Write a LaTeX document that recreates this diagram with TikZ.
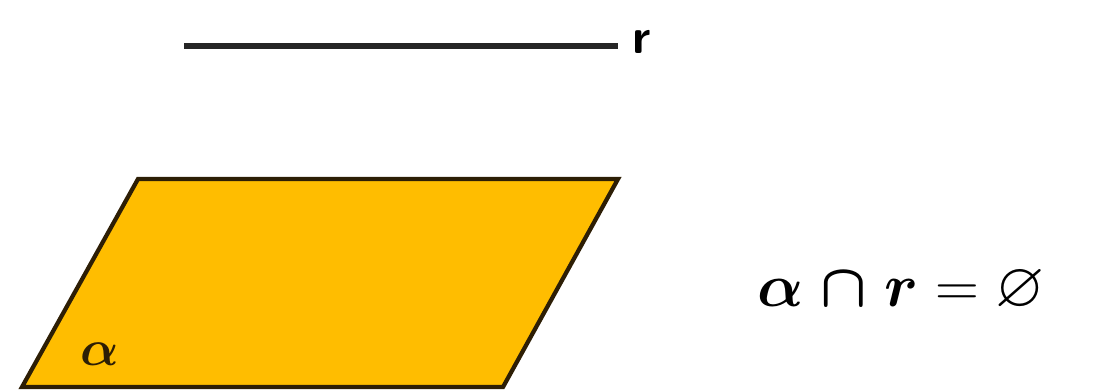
\documentclass[tikz,border=0pt]{standalone}
\usepackage{amsmath,amssymb,bm}
\usepackage{tikz}
\usetikzlibrary{calc}
\definecolor{planeyellow}{RGB}{255,189,0}
\definecolor{planeedge}{RGB}{45,30,5}

\begin{document}
\begin{tikzpicture}[x=0.01cm,y=-0.01cm]
  \useasboundingbox (0,0) rectangle (1107,390);
  % line r
  \coordinate (r0) at (184,46);
  \coordinate (r1) at (618,46);
  \draw[black!85,line width=1.5pt] (r0) -- (r1);
  \node[anchor=west,inner sep=0pt,font=\sffamily\bfseries\fontsize{14}{17}\selectfont] (rlab) at (632,42) {r};
  % plane alpha
  \fill[planeyellow] (138,179)--(618,179)--(503,387)--(22,387)--cycle;
  \draw[planeedge,line width=1.2pt,line join=miter] (138,179)--(618,179)--(503,387)--(22,387)--cycle;
  \node[inner sep=0pt,text=planeedge,font=\fontsize{15}{18}\selectfont] (alab) at (100,354) {$\boldsymbol{\alpha}$};
  % relation
  \node[anchor=west,inner sep=0pt,font=\fontsize{18}{22}\selectfont] (rel) at (757,291)
    {$\boldsymbol{\alpha} \mathrel{\boldsymbol{\cap}} \boldsymbol{r} = \varnothing$};
\end{tikzpicture}
\end{document}
